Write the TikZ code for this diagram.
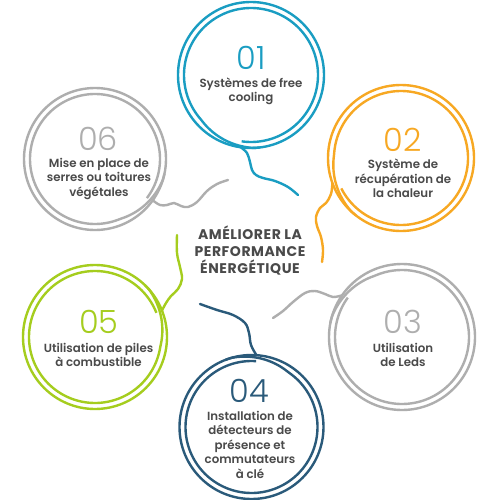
\documentclass[tikz,border=0pt]{standalone}
\usepackage{fontspec}
\setmainfont{Poppins}
\newfontfamily\numfont{Poppins Light}
\newfontfamily\labelfont{Poppins SemiBold}
\newfontfamily\titlefont{Poppins Bold}[LetterSpace=4]

\definecolor{bleu}{HTML}{1A9DC2}
\definecolor{orange}{HTML}{F7A823}
\definecolor{gris}{HTML}{AEAEAE}
\definecolor{marine}{HTML}{2A5A7A}
\definecolor{vert}{HTML}{A5CD1E}
\definecolor{texte}{HTML}{4A4A4A}

\begin{document}
\begin{tikzpicture}[
        x=1pt, y=-1pt,
        ring/.style={
            line width=2.4pt
        },
        tail/.style={
            line width=2.4pt,
            line cap=round
        },
        num/.style={
            inner sep=0pt,
            font=\numfont\fontsize{32}{32}\selectfont
        },
        label/.style={
            inner sep=0pt,
            align=center,
            text=texte,
            font=\labelfont\fontsize{11.8}{14.5}\selectfont
        },
        title/.style={
            inner sep=0pt,
            align=center,
            text=texte,
            font=\titlefont\fontsize{14}{17}\selectfont
        }
    ]
        \fill[white] (0,0) rectangle (500,500);
        \useasboundingbox (0,0) rectangle (500,500);

        % --- Titre central ---
        \node[title] (title) at (250,250.5) {AMÉLIORER LA\\PERFORMANCE\\ÉNERGÉTIQUE};

        % --- 01 : free cooling ---
        \begin{scope}[shift={(251,75)}]
            \draw[ring, bleu] (0,0) circle (73);
            \draw[ring, bleu] plot[domain=0:375, samples=150, variable=\t]
                ({98-\t}:{67+6*min(1,max(0,(\t-320)/50))});
            \node[num, text=bleu] (n1) at (0,-17) {01};
            \node[label] (t1) at (0,16.5) {Systèmes de free\\cooling};
        \end{scope}

        % --- 02 : récupération de chaleur ---
        \begin{scope}[shift={(401,158)}]
            \draw[ring, orange] (0,0) circle (73);
            \draw[ring, orange] plot[domain=0:385, samples=150, variable=\t]
                ({153-\t}:{67+6*min(1,max(0,(\t-330)/50))});
            \node[num, text=orange] (n2) at (2,-18.5) {02};
            \node[label] (t2) at (2,20.5) {Système de\\récupération de\\la chaleur};
        \end{scope}

        % --- 03 : Leds ---
        \begin{scope}[shift={(402,337)}]
            \draw[ring, gris] (0,0) circle (73);
            \draw[ring, gris] plot[domain=0:385, samples=150, variable=\t]
                ({216-\t}:{67+6*min(1,max(0,(\t-330)/50))});
            \node[num, text=gris] (n3) at (1,-15.5) {03};
            \node[label] (t3) at (1,18) {Utilisation\\de Leds};
        \end{scope}

        % --- 04 : détecteurs ---
        \begin{scope}[shift={(251.5,427)}]
            \draw[ring, marine] (0,0) circle (72);
            \draw[ring, marine] plot[domain=0:385, samples=150, variable=\t]
                ({-86-\t}:{66+6*min(1,max(0,(\t-330)/50))});
            \node[num, text=marine] (n4) at (-2,-36.5) {04};
            \node[label] (t4) at (-1.5,17.5) {Installation de\\détecteurs de\\présence et\\commutateurs\\à clé};
        \end{scope}

        % --- 05 : piles à combustible ---
        \begin{scope}[shift={(95,337)}]
            \draw[ring, vert] (0,0) circle (72);
            \draw[ring, vert] plot[domain=0:385, samples=150, variable=\t]
                ({-21.5-\t}:{66+6*min(1,max(0,(\t-330)/50))});
            \node[num, text=vert] (n5) at (4,-15) {05};
            \node[label] (t5) at (3.5,18) {Utilisation de piles\\à combustible};
        \end{scope}

        % --- 06 : serres ou toitures végétales ---
        \begin{scope}[shift={(95,159)}]
            \draw[ring, gris] (0,0) circle (71);
            \draw[ring, gris] plot[domain=0:385, samples=150, variable=\t]
                ({37-\t}:{65+6*min(1,max(0,(\t-330)/50))});
            \node[num, text=gris] (n6) at (3,-20) {06};
            \node[label] (t6) at (4,19.5) {Mise en place de\\serres ou toitures\\végétales};
        \end{scope}

        % --- Queues ondulées vers le centre ---
        \draw[tail, bleu] plot[smooth, tension=0.6] coordinates {
            (240.8,147.3) (247,153) (250,162) (252,170) (256,175) (263,178)
            (275,181) (288,187) (298,195)};
        \draw[tail, orange] plot[smooth, tension=0.6] coordinates {
            (332.4,183) (331,194) (326,203) (320,208) (316,217) (317,226)
            (321,237) (323,250) (322,262)};
        \draw[tail, gris] plot[smooth, tension=0.6] coordinates {
            (341.5,295.5) (333,297) (325,294) (315,291) (305,293) (293,302)
            (283,311) (273,318)};
        \draw[tail, marine] plot[smooth, tension=0.6] coordinates {
            (256.5,355.2) (251,345) (249,333) (245,323) (233,315) (217,310)
            (200,304)};
        \draw[tail, vert] plot[smooth, tension=0.6] coordinates {
            (162,310.5) (166,303) (171,296) (178,289) (182,279) (180,267)
            (177,253) (177,235)};
        \draw[tail, gris] plot[smooth, tension=0.6] coordinates {
            (152.7,200.3) (160,205) (167,205) (174,203) (181,206) (188,207)
            (197,202) (207,191) (217,184) (228,180)};
    \end{tikzpicture}
\end{document}
